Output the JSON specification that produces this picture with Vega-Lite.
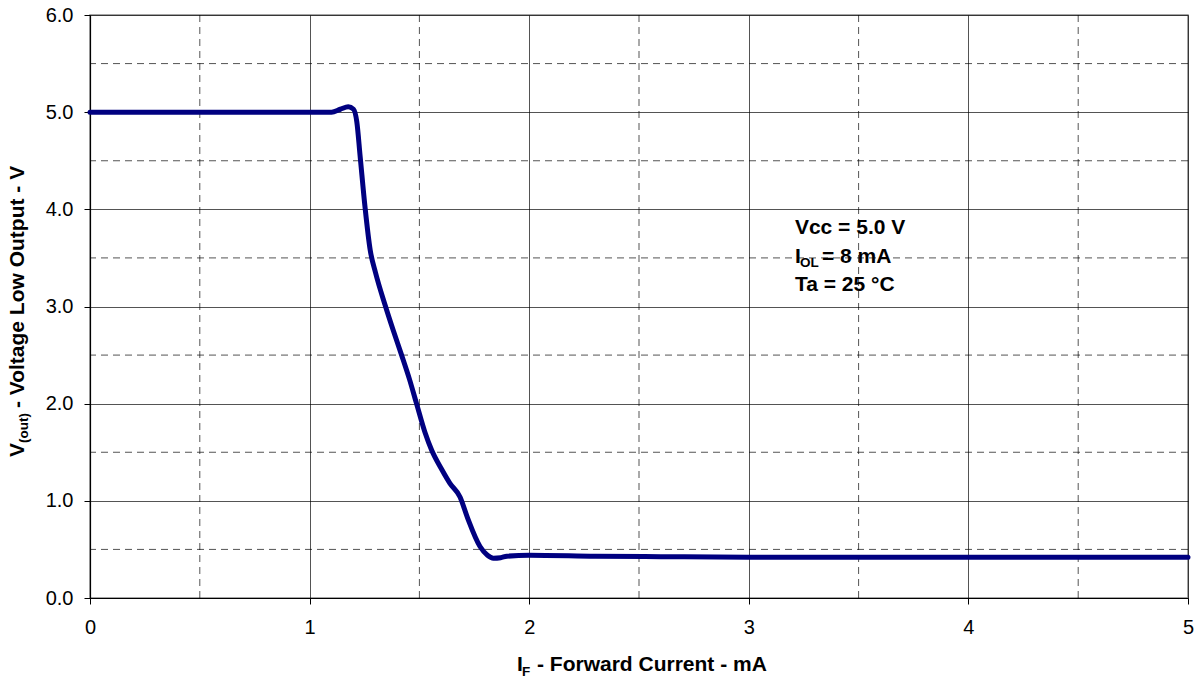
{
  "$schema": "https://vega.github.io/schema/vega-lite/v6.json",
  "width": 1098,
  "height": 583,
  "autosize": "none",
  "padding": {"left": 90, "top": 15, "right": 12, "bottom": 81},
  "background": "white",
  "config": {
    "font": "Liberation Sans",
    "view": {"stroke": "#888888", "strokeWidth": 1.5},
    "axis": {
      "domainColor": "#000000",
      "domainWidth": 1.2,
      "tickColor": "#000000",
      "tickSize": 6,
      "gridColor": "#000000",
      "gridWidth": 0.8,
      "gridOpacity": 0.85,
      "labelFont": "Liberation Sans",
      "labelFontSize": 20,
      "labelColor": "#000000",
      "labelFlush": false,
      "title": null
    }
  },
  "datasets": {
    "curve": [
      {"If": 0, "Vout": 5.0},
      {"If": 1.10, "Vout": 5.0},
      {"If": 1.14, "Vout": 5.03},
      {"If": 1.176, "Vout": 5.055},
      {"If": 1.20, "Vout": 5.03},
      {"If": 1.215, "Vout": 4.90},
      {"If": 1.23, "Vout": 4.55},
      {"If": 1.253, "Vout": 4.01},
      {"If": 1.276, "Vout": 3.58},
      {"If": 1.30, "Vout": 3.35},
      {"If": 1.343, "Vout": 3.02},
      {"If": 1.38, "Vout": 2.76},
      {"If": 1.419, "Vout": 2.50},
      {"If": 1.455, "Vout": 2.25},
      {"If": 1.487, "Vout": 2.00},
      {"If": 1.526, "Vout": 1.70},
      {"If": 1.556, "Vout": 1.52},
      {"If": 1.60, "Vout": 1.33},
      {"If": 1.639, "Vout": 1.18},
      {"If": 1.685, "Vout": 1.04},
      {"If": 1.72, "Vout": 0.82},
      {"If": 1.776, "Vout": 0.53},
      {"If": 1.81, "Vout": 0.44},
      {"If": 1.837, "Vout": 0.41},
      {"If": 1.87, "Vout": 0.415},
      {"If": 1.898, "Vout": 0.43},
      {"If": 2.0, "Vout": 0.44},
      {"If": 2.3, "Vout": 0.43},
      {"If": 2.6, "Vout": 0.425},
      {"If": 3.0, "Vout": 0.42},
      {"If": 5.0, "Vout": 0.42}
    ],
    "xminor": [{"v": 0.5}, {"v": 1.5}, {"v": 2.5}, {"v": 3.5}, {"v": 4.5}],
    "yminor": [{"v": 0.5}, {"v": 1.5}, {"v": 2.5}, {"v": 3.5}, {"v": 4.5}, {"v": 5.5}]
  },
  "layer": [
    {
      "data": {"name": "xminor"},
      "mark": {"type": "rule", "color": "#000000", "strokeWidth": 0.8, "strokeDash": [7, 5], "opacity": 0.85},
      "encoding": {
        "x": {"field": "v", "type": "quantitative", "scale": {"domain": [0, 5], "nice": false}}
      }
    },
    {
      "data": {"name": "yminor"},
      "mark": {"type": "rule", "color": "#000000", "strokeWidth": 0.8, "strokeDash": [7, 5], "opacity": 0.85},
      "encoding": {
        "y": {"field": "v", "type": "quantitative", "scale": {"domain": [0, 6], "nice": false}}
      }
    },
    {
      "data": {"name": "curve"},
      "mark": {"type": "line", "color": "#000080", "strokeWidth": 5, "interpolate": "monotone", "strokeCap": "round", "strokeJoin": "round"},
      "encoding": {
        "x": {
          "field": "If", "type": "quantitative",
          "scale": {"domain": [0, 5], "nice": false},
          "axis": {"values": [0, 1, 2, 3, 4, 5], "format": "d", "labelPadding": 13, "grid": true}
        },
        "y": {
          "field": "Vout", "type": "quantitative",
          "scale": {"domain": [0, 6], "nice": false},
          "axis": {"values": [0, 1, 2, 3, 4, 5, 6], "format": ".1f", "labelPadding": 11, "grid": true}
        }
      }
    },
    {
      "data": {"values": [{"x": 3.21, "y": 3.805, "t": "Vcc = 5.0 V"}, {"x": 3.21, "y": 3.221, "t": "Ta = 25 °C"}]},
      "mark": {"type": "text", "align": "left", "baseline": "middle", "fontSize": 21, "fontWeight": "bold", "font": "Liberation Sans", "color": "#000000"},
      "encoding": {
        "x": {"field": "x", "type": "quantitative"},
        "y": {"field": "y", "type": "quantitative"},
        "text": {"field": "t"}
      }
    },
    {
      "data": {"values": [{"x": 3.21, "y": 3.509, "t": "I"}]},
      "mark": {"type": "text", "align": "left", "baseline": "middle", "fontSize": 21, "fontWeight": "bold", "font": "Liberation Sans", "color": "#000000"},
      "encoding": {
        "x": {"field": "x", "type": "quantitative"},
        "y": {"field": "y", "type": "quantitative"},
        "text": {"field": "t"}
      }
    },
    {
      "data": {"values": [{"x": 3.21, "y": 3.509, "t": "OL"}]},
      "mark": {"type": "text", "align": "left", "baseline": "middle", "fontSize": 13.5, "fontWeight": "bold", "font": "Liberation Sans", "color": "#000000", "dx": 5, "dy": 6},
      "encoding": {
        "x": {"field": "x", "type": "quantitative"},
        "y": {"field": "y", "type": "quantitative"},
        "text": {"field": "t"}
      }
    },
    {
      "data": {"values": [{"x": 3.21, "y": 3.509, "t": "= 8 mA"}]},
      "mark": {"type": "text", "align": "left", "baseline": "middle", "fontSize": 21, "fontWeight": "bold", "font": "Liberation Sans", "color": "#000000", "dx": 27},
      "encoding": {
        "x": {"field": "x", "type": "quantitative"},
        "y": {"field": "y", "type": "quantitative"},
        "text": {"field": "t"}
      }
    },
    {
      "data": {"values": [{"x": 1.9445, "y": -0.69, "t": "I"}]},
      "mark": {"type": "text", "align": "left", "baseline": "middle", "fontSize": 21, "fontWeight": "bold", "font": "Liberation Sans", "color": "#000000"},
      "encoding": {
        "x": {"field": "x", "type": "quantitative"},
        "y": {"field": "y", "type": "quantitative"},
        "text": {"field": "t"}
      }
    },
    {
      "data": {"values": [{"x": 1.9445, "y": -0.69, "t": "F"}]},
      "mark": {"type": "text", "align": "left", "baseline": "middle", "fontSize": 13.5, "fontWeight": "bold", "font": "Liberation Sans", "color": "#000000", "dx": 5, "dy": 7},
      "encoding": {
        "x": {"field": "x", "type": "quantitative"},
        "y": {"field": "y", "type": "quantitative"},
        "text": {"field": "t"}
      }
    },
    {
      "data": {"values": [{"x": 1.9445, "y": -0.69, "t": "- Forward Current - mA"}]},
      "mark": {"type": "text", "align": "left", "baseline": "middle", "fontSize": 21, "fontWeight": "bold", "font": "Liberation Sans", "color": "#000000", "dx": 20},
      "encoding": {
        "x": {"field": "x", "type": "quantitative"},
        "y": {"field": "y", "type": "quantitative"},
        "text": {"field": "t"}
      }
    },
    {
      "data": {"values": [{"x": -0.328, "y": 1.45, "t": "V"}]},
      "mark": {"type": "text", "align": "left", "baseline": "middle", "angle": 270, "fontSize": 21, "fontWeight": "bold", "font": "Liberation Sans", "color": "#000000"},
      "encoding": {
        "x": {"field": "x", "type": "quantitative"},
        "y": {"field": "y", "type": "quantitative"},
        "text": {"field": "t"}
      }
    },
    {
      "data": {"values": [{"x": -0.328, "y": 1.45, "t": "(out)"}]},
      "mark": {"type": "text", "align": "left", "baseline": "middle", "angle": 270, "fontSize": 13.5, "fontWeight": "bold", "font": "Liberation Sans", "color": "#000000", "dx": 14, "dy": 6},
      "encoding": {
        "x": {"field": "x", "type": "quantitative"},
        "y": {"field": "y", "type": "quantitative"},
        "text": {"field": "t"}
      }
    },
    {
      "data": {"values": [{"x": -0.328, "y": 1.45, "t": "- Voltage Low Output - V"}]},
      "mark": {"type": "text", "align": "left", "baseline": "middle", "angle": 270, "fontSize": 21, "fontWeight": "bold", "font": "Liberation Sans", "color": "#000000", "dx": 49},
      "encoding": {
        "x": {"field": "x", "type": "quantitative"},
        "y": {"field": "y", "type": "quantitative"},
        "text": {"field": "t"}
      }
    }
  ]
}
